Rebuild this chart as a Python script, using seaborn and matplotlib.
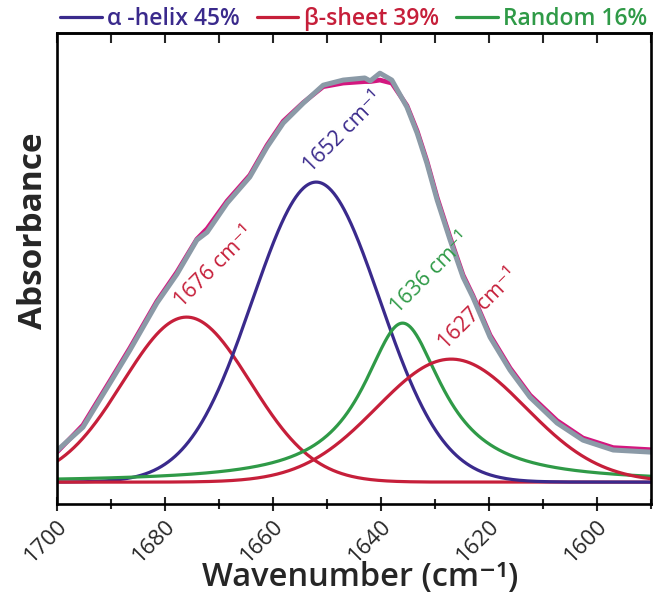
import numpy as np
import pandas as pd
import matplotlib
matplotlib.use("Agg")
import matplotlib.pyplot as plt
from matplotlib.ticker import MultipleLocator, NullLocator
from matplotlib.lines import Line2D
from matplotlib.transforms import ScaledTranslation
import seaborn as sns

# Measured amide I spectrum (wavenumber, absorbance)
meas_wn = [1700.0, 1695.2, 1690.2, 1686.5, 1681.5, 1677.8, 1674.1, 1672.2, 1668.5,
           1664.3, 1661.1, 1658.1, 1654.4, 1650.7, 1647.0, 1643.0, 1642.0, 1640.2,
           1638.0, 1635.2, 1633.3, 1631.5, 1629.6, 1627.2, 1624.8, 1623.0, 1619.8,
           1616.1, 1612.4, 1607.4, 1602.6, 1597.0, 1590.0]
meas_abs = [0.105, 0.183, 0.330, 0.440, 0.597, 0.693, 0.807, 0.833, 0.930,
            1.017, 1.117, 1.197, 1.263, 1.323, 1.340, 1.347, 1.337, 1.363,
            1.340, 1.250, 1.163, 1.063, 0.940, 0.807, 0.683, 0.617, 0.483,
            0.373, 0.283, 0.197, 0.140, 0.107, 0.100]
# Fitted envelope
fit_abs = [0.100, 0.190, 0.337, 0.447, 0.603, 0.700, 0.810, 0.845, 0.937,
           1.023, 1.123, 1.203, 1.265, 1.318, 1.330, 1.335, 1.335, 1.340,
           1.330, 1.255, 1.170, 1.070, 0.948, 0.815, 0.690, 0.623, 0.490,
           0.380, 0.290, 0.205, 0.147, 0.115, 0.108]

# Deconvoluted component bands
peak_centers = [1676, 1652, 1636, 1627]
peak_heights = [0.55, 1.00, 0.53, 0.41]
peak_widths = [11.8, 11.8, 9.0, 13.8]
peak_shapes = ["gauss", "gauss", "lorentz", "gauss"]
peak_groups = ["β-sheet", "α-helix", "Random", "β-sheet"]

# Secondary structure content
groups = ["α-helix", "β-sheet", "Random"]
group_percent = [45, 39, 16]
legend_names = ["α -helix", "β-sheet", "Random"]

x_ticks = [1700, 1680, 1660, 1640, 1620, 1600]

colors = {"α-helix": "#3a2a8c", "β-sheet": "#c61f3a", "Random": "#2f9a47"}
gray = "#8b9aa7"
magenta = "#d3177f"

sns.set_style("white")
plt.rcParams["font.family"] = ["Open Sans", "DejaVu Sans"]


def band(x, c, h, w, shape):
    if shape == "gauss":
        return h * np.exp(-(x - c) ** 2 / (2 * w ** 2))
    return h / (1 + ((x - c) / w) ** 2)


fig = plt.figure(figsize=(6.62, 6.05), dpi=100)
ax = fig.add_axes([0.0861, 0.1669, 0.8973, 0.7786])

grid = np.linspace(1590, 1700, 700)
for c, h, w, s, g in zip(peak_centers, peak_heights, peak_widths, peak_shapes, peak_groups):
    df = pd.DataFrame({"wavenumber": grid, "absorbance": band(grid, c, h, w, s)})
    sns.lineplot(data=df, x="wavenumber", y="absorbance", ax=ax, color=colors[g],
                 lw=2.3, sort=False, estimator=None)
    ax.annotate(f"{c} cm⁻¹", xy=(c, h), xytext=(20, 36), textcoords="offset points",
                rotation=45, rotation_mode="anchor", ha="center", va="center",
                color=colors[g], fontsize=15.5)

fit_df = pd.DataFrame({"wavenumber": meas_wn, "absorbance": fit_abs})
sns.lineplot(data=fit_df, x="wavenumber", y="absorbance", ax=ax, color=magenta,
             lw=3.4, sort=False, estimator=None)
meas_df = pd.DataFrame({"wavenumber": meas_wn, "absorbance": meas_abs})
sns.lineplot(data=meas_df, x="wavenumber", y="absorbance", ax=ax, color=gray,
             lw=3.6, sort=False, estimator=None)

ax.set_xlim(1700, 1590)
ax.set_ylim(-0.073, 1.497)

for sp in ax.spines.values():
    sp.set_visible(True)
    sp.set_color("black")
    sp.set_linewidth(1.9)

ax.xaxis.set_major_locator(MultipleLocator(20))
ax.xaxis.set_minor_locator(MultipleLocator(10))
ax.set_xticks(x_ticks)
ax.set_xticklabels([str(t) for t in x_ticks], rotation=45, ha="right",
                   rotation_mode="anchor", va="center")
ax.tick_params(axis="x", which="major", direction="inout", length=10, width=1.5,
               labelsize=16, pad=9, bottom=True)
ax.tick_params(axis="x", which="minor", direction="inout", length=7, width=1.5,
               bottom=True)
# nudge the rotated tick labels so their upper ends sit just right of each tick
shift = ScaledTranslation(5 / 72, 0, fig.dpi_scale_trans)
for lbl in ax.get_xticklabels():
    lbl.set_transform(lbl.get_transform() + shift)
ax.yaxis.set_major_locator(NullLocator())
ax.set_yticks([])

top = ax.secondary_xaxis("top")
top.xaxis.set_major_locator(MultipleLocator(10))
top.tick_params(axis="x", which="major", direction="in", length=7, width=1.5,
                labeltop=False)
top.spines["top"].set_linewidth(1.9)

ax.set_xlabel("Wavenumber (cm⁻¹)", fontsize=23.5, fontweight="semibold")
ax.xaxis.set_label_coords(0.51, -0.122)
ax.set_ylabel("Absorbance", fontsize=24, fontweight="bold")
ax.yaxis.set_label_coords(-0.012, 0.58)

handles = [Line2D([], [], color=colors[g], lw=2.3) for g in groups]
labels = [f"{n} {p}%" for n, p in zip(legend_names, group_percent)]
leg = ax.legend(handles, labels, loc="lower center", bbox_to_anchor=(0.5, 0.985),
                ncol=3, frameon=False, labelcolor="linecolor", handlelength=1.8,
                handletextpad=0.25, columnspacing=0.75, borderaxespad=0.0,
                prop={"size": 16.5, "weight": "semibold"})

fig.savefig("out.png", dpi=100)
